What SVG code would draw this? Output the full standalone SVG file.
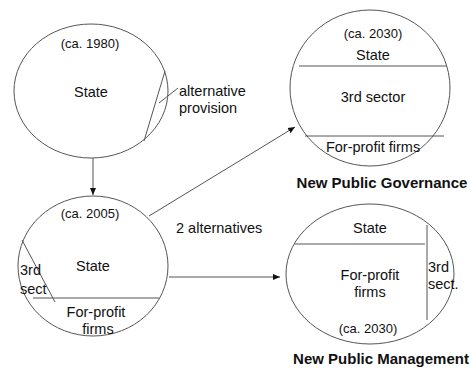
<svg xmlns="http://www.w3.org/2000/svg" width="470" height="369" viewBox="0 0 470 369">
<style>
.c{fill:#fff;stroke:#555;stroke-width:1}
.l{stroke:#555;stroke-width:1;fill:none}
.t{font-family:"Liberation Sans",Arial,sans-serif;font-size:14.5px;fill:#111}
.d{font-family:"Liberation Sans",Arial,sans-serif;font-size:13px;fill:#111}
.b{font-family:"Liberation Sans",Arial,sans-serif;font-size:15px;font-weight:bold;fill:#111}
.m{text-anchor:middle}
</style>
<defs>
<marker id="ah" markerWidth="8" markerHeight="8" refX="7" refY="4" orient="auto" markerUnits="userSpaceOnUse">
<path d="M0,1 L7,4 L0,7 Z" fill="#111"/>
</marker>
</defs>
<rect width="470" height="369" fill="#fff"/>
<g id="n1980">
<ellipse class="c" cx="91" cy="91" rx="77" ry="67"/>
<line class="l" x1="165" y1="71" x2="144" y2="141"/>
<line class="l" x1="159" y1="103" x2="178" y2="88"/>
<text class="d m" x="90" y="48">(ca. 1980)</text>
<text class="t m" x="91" y="97">State</text>
<text class="t" x="179" y="96">alternative</text>
<text class="t" x="179" y="113">provision</text>
</g>
<g id="n2005">
<ellipse class="c" cx="93" cy="266" rx="75" ry="70"/>
<line class="l" x1="33" y1="298" x2="159" y2="298"/>
<line class="l" x1="22" y1="240" x2="55" y2="302"/>
<text class="d m" x="90" y="218">(ca. 2005)</text>
<text class="t m" x="93" y="271">State</text>
<text class="t m" x="96" y="317">For-profit</text>
<text class="t m" x="98" y="334">firms</text>
<text class="t" x="20" y="275">3rd</text>
<text class="t" x="20" y="294">sect</text>
</g>
<g id="nNPG">
<ellipse class="c" cx="370" cy="88" rx="80" ry="78"/>
<line class="l" x1="299" y1="66" x2="447" y2="66"/>
<line class="l" x1="305" y1="136" x2="444" y2="136"/>
<text class="d m" x="373" y="38">(ca. 2030)</text>
<text class="t m" x="373" y="60">State</text>
<text class="t m" x="373" y="102">3rd sector</text>
<text class="t m" x="373" y="152">For-profit firms</text>
<text class="b m" x="382" y="188">New Public Governance</text>
</g>
<g id="nNPM">
<ellipse class="c" cx="370" cy="274" rx="84" ry="70"/>
<line class="l" x1="295" y1="244" x2="425" y2="244"/>
<line class="l" x1="427" y1="225" x2="427" y2="320"/>
<text class="t m" x="370" y="233">State</text>
<text class="t m" x="370" y="280">For-profit</text>
<text class="t m" x="370" y="297">firms</text>
<text class="d m" x="368" y="333">(ca. 2030)</text>
<text class="t" x="428" y="272">3rd</text>
<text class="t" x="428" y="289">sect.</text>
<text class="b m" x="381" y="364">New Public Management</text>
</g>
<g id="connectors">
<line class="l" x1="93" y1="158" x2="93" y2="195" marker-end="url(#ah)"/>
<line class="l" x1="149" y1="216" x2="295" y2="127" marker-end="url(#ah)"/>
<line class="l" x1="169" y1="277" x2="280" y2="277" marker-end="url(#ah)"/>
<text class="t" x="176" y="233">2 alternatives</text>
</g>
</svg>
